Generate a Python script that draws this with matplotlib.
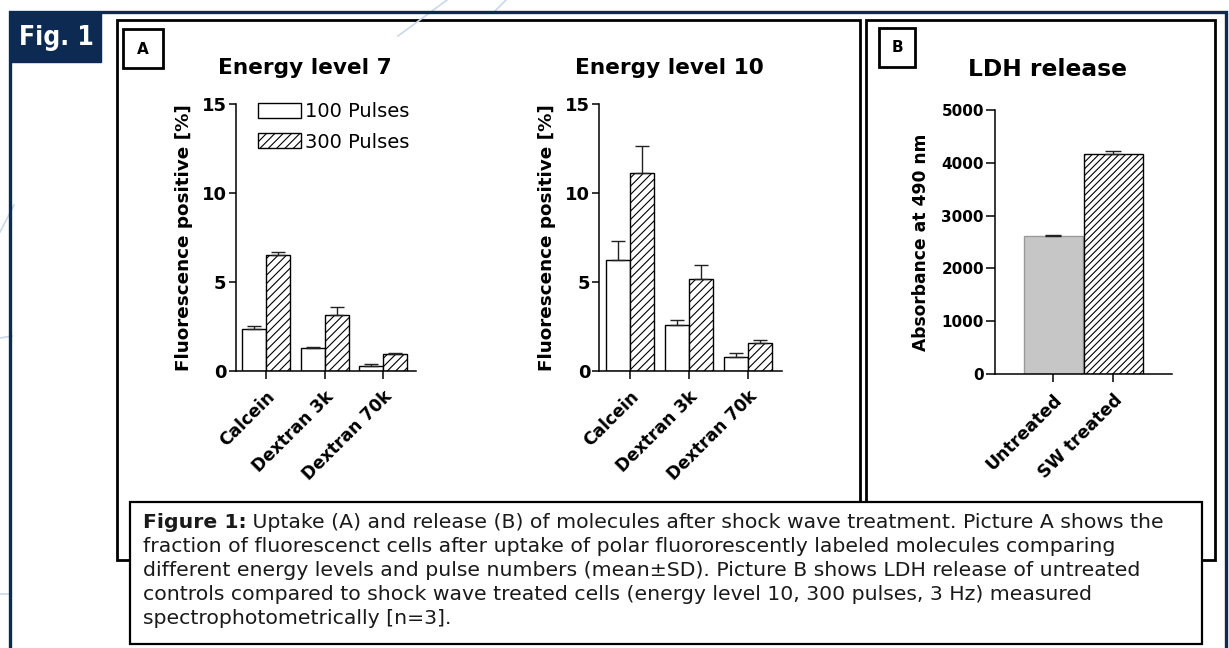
import numpy as np
import matplotlib
matplotlib.use("Agg")
import matplotlib.pyplot as plt
from matplotlib.patches import Rectangle

# ---- data ----
molecules = ["Calcein", "Dextran 3k", "Dextran 70k"]
pulse_labels = ["100 Pulses", "300 Pulses"]

# energy level 7, fluorescence positive [%]
e7_100 = [2.35, 1.32, 0.30]
e7_100_sd = [0.18, 0.05, 0.08]
e7_300 = [6.52, 3.15, 0.94]
e7_300_sd = [0.15, 0.46, 0.06]

# energy level 10
e10_100 = [6.26, 2.58, 0.81]
e10_100_sd = [1.03, 0.26, 0.19]
e10_300 = [11.15, 5.17, 1.56]
e10_300_sd = [1.50, 0.81, 0.19]

# LDH release, absorbance at 490 nm
ldh_groups = ["Untreated", "SW treated"]
ldh_values = [2614, 4160]
ldh_sd = [21, 63]

caption_lines = [
    "fraction of fluorescenct cells after uptake of polar fluororescently labeled molecules comparing",
    "different energy levels and pulse numbers (mean\u00b1SD). Picture B shows LDH release of untreated",
    "controls compared to shock wave treated cells (energy level 10, 300 pulses, 3 Hz) measured",
    "spectrophotometrically [n=3].",
]
caption_head = "Figure 1:"
caption_first = " Uptake (A) and release (B) of molecules after shock wave treatment. Picture A shows the"

W, H = 1229, 648
NAVY = "#0c2a52"
plt.rcParams["font.family"] = "DejaVu Sans"
plt.rcParams["hatch.linewidth"] = 0.8

fig = plt.figure(figsize=(W / 100, H / 100), dpi=100)
fig.patch.set_facecolor("white")

# background layer in pixel coordinates for frames and caption
bg = fig.add_axes([0, 0, 1, 1], zorder=0)
bg.set_xlim(0, W)
bg.set_ylim(H, 0)
bg.axis("off")

# faint decorative strokes
for (xa, ya), (xb, yb) in [((447, 0), (398, 36)), ((506, 0), (494, 12)),
                            ((0, 232), (14, 205)), ((0, 338), (12, 336)), ((0, 594), (10, 594))]:
    bg.plot([xa, xb], [ya, yb], color="#c9d8ea", lw=1.2)

# navy outer frame and Fig. 1 tab
bg.plot([10, 10, 1226, 1226], [660, 12, 12, 660], color=NAVY, lw=2.4, solid_joinstyle="miter")
bg.add_patch(Rectangle((10, 12), 91, 50, facecolor=NAVY, edgecolor=NAVY))
bg.text(56, 38, "Fig. 1", color="white", fontsize=19, fontweight="bold",
        family=["Liberation Sans Narrow", "DejaVu Sans"], fontstretch="condensed",
        ha="center", va="center")

# panel boxes
bg.add_patch(Rectangle((117, 20), 860 - 117, 560 - 20, facecolor="white", edgecolor="black", lw=2))
bg.add_patch(Rectangle((866, 20), 1215 - 866, 560 - 20, facecolor="white", edgecolor="black", lw=2))
bg.add_patch(Rectangle((123, 29), 40, 39, facecolor="white", edgecolor="black", lw=2))
bg.text(143, 49, "A", fontsize=11, fontweight="bold", ha="center", va="center")
bg.add_patch(Rectangle((879, 28), 36, 39, facecolor="white", edgecolor="black", lw=2))
bg.text(897, 48, "B", fontsize=11, fontweight="bold", ha="center", va="center")

# caption box covering the lower part of the panels
bg.add_patch(Rectangle((130, 502), 1202 - 130, 644 - 502, facecolor="white", edgecolor="black", lw=1.6))

# fit caption font so the first line spans the measured width
renderer = fig.canvas.get_renderer()
probe_a = bg.text(0, 0, caption_head, fontsize=10, fontweight="bold")
probe_b = bg.text(0, 0, caption_first, fontsize=10)
wa = probe_a.get_window_extent(renderer).width
wb = probe_b.get_window_extent(renderer).width
probe_a.remove()
probe_b.remove()
cap_fs = 10 * 1015 / (wa + wb)
x0 = 143
bg.text(x0, 522, caption_head, fontsize=cap_fs, fontweight="bold", va="center", color="#1a1a1a")
bg.text(x0 + wa * cap_fs / 10, 522, caption_first, fontsize=cap_fs, va="center", color="#1a1a1a")
for i, line in enumerate(caption_lines):
    bg.text(x0, 547 + 24 * i, line, fontsize=cap_fs, va="center", color="#1a1a1a")


def style_axes(ax, ytick_fs, ytick_len, xtick_fs):
    for s in ["top", "right"]:
        ax.spines[s].set_visible(False)
    for s in ["left", "bottom"]:
        ax.spines[s].set_linewidth(1.1)
    ax.patch.set_alpha(0)
    ax.tick_params(axis="y", direction="out", length=ytick_len, width=1.1, pad=1.5, labelsize=ytick_fs)
    ax.tick_params(axis="x", direction="out", length=6, width=1.1, pad=6, labelsize=xtick_fs)
    for lab in ax.get_yticklabels():
        lab.set_fontweight("bold")
    for lab in ax.get_xticklabels():
        lab.set_fontweight("bold")
        lab.set_rotation(45)
        lab.set_ha("right")
        lab.set_va("top")
        lab.set_rotation_mode("anchor")


def energy_panel(left_px, step_px, v100, sd100, v300, sd300, title, title_x, legend):
    lo, hi = -0.52, 2.57
    ax = fig.add_axes([left_px / W, 1 - 371 / H, (hi - lo) * step_px / W, 267 / H], zorder=2)
    x = np.arange(len(molecules))
    w = 0.41
    ekw = dict(ecolor="#222222", elinewidth=1.0, capsize=5, capthick=1.0)
    b1 = ax.bar(x - w / 2, v100, w, color="white", edgecolor="black", lw=1.0,
                yerr=[np.zeros(3), sd100], error_kw=ekw, label=pulse_labels[0])
    b2 = ax.bar(x + w / 2, v300, w, color="white", edgecolor="black", lw=1.0, hatch="////",
                yerr=[np.zeros(3), sd300], error_kw=ekw, label=pulse_labels[1])
    ax.set_xlim(lo, hi)
    ax.set_ylim(0, 15)
    ax.set_yticks([0, 5, 10, 15])
    ax.set_xticks(x)
    ax.set_xticklabels(molecules)
    style_axes(ax, 13, 5, 12.3)
    ax.set_ylabel("Fluorescence positive [%]", fontsize=13.2, fontweight="bold")
    axw = (hi - lo) * step_px
    ax.yaxis.set_label_coords(-43 / axw, 0.5)
    bg.text(title_x, 74, title, fontsize=15.6, fontweight="bold", ha="center", va="baseline")
    if legend:
        ax.legend(handles=[b1, b2], loc="upper left",
                  bbox_to_anchor=((258 - left_px) / axw, (371 - 102) / 267),
                  frameon=False, fontsize=14, handlelength=2.2, handleheight=0.8,
                  handletextpad=0.2, labelspacing=0.6, borderpad=0, borderaxespad=0)
    return ax


energy_panel(235.6, 58.5, e7_100, e7_100_sd, e7_300, e7_300_sd, "Energy level 7", 305, True)
energy_panel(599.3, 59.0, e10_100, e10_100_sd, e10_300, e10_300_sd, "Energy level 10", 669, False)

# panel B
lo, hi = -0.97, 1.98
axb = fig.add_axes([995 / W, 1 - 374 / H, (hi - lo) * 60 / W, 264 / H], zorder=2)
xb = np.arange(len(ldh_groups))
ekw = dict(ecolor="#222222", elinewidth=1.0, capsize=6, capthick=1.0)
axb.bar(xb[0], ldh_values[0], 0.98, color="#c6c6c6", edgecolor="#9a9a9a", lw=1.0,
        yerr=[[0], [ldh_sd[0]]], error_kw=ekw)
axb.bar(xb[1], ldh_values[1], 0.98, color="white", edgecolor="black", lw=1.0, hatch="/////",
        yerr=[[0], [ldh_sd[1]]], error_kw=ekw)
axb.set_xlim(lo, hi)
axb.set_ylim(0, 5000)
axb.set_yticks(range(0, 5001, 1000))
axb.set_xticks(xb)
axb.set_xticklabels(ldh_groups)
style_axes(axb, 11, 6.5, 12.5)
axb.set_ylabel("Absorbance at 490 nm", fontsize=12.3, fontweight="bold")
axb.yaxis.set_label_coords((930 - 995) / ((hi - lo) * 60), 0.5)
bg.text(1047, 76, "LDH release", fontsize=16.8, fontweight="bold", ha="center", va="baseline")

fig.savefig("out.png", dpi=100, facecolor="white")
